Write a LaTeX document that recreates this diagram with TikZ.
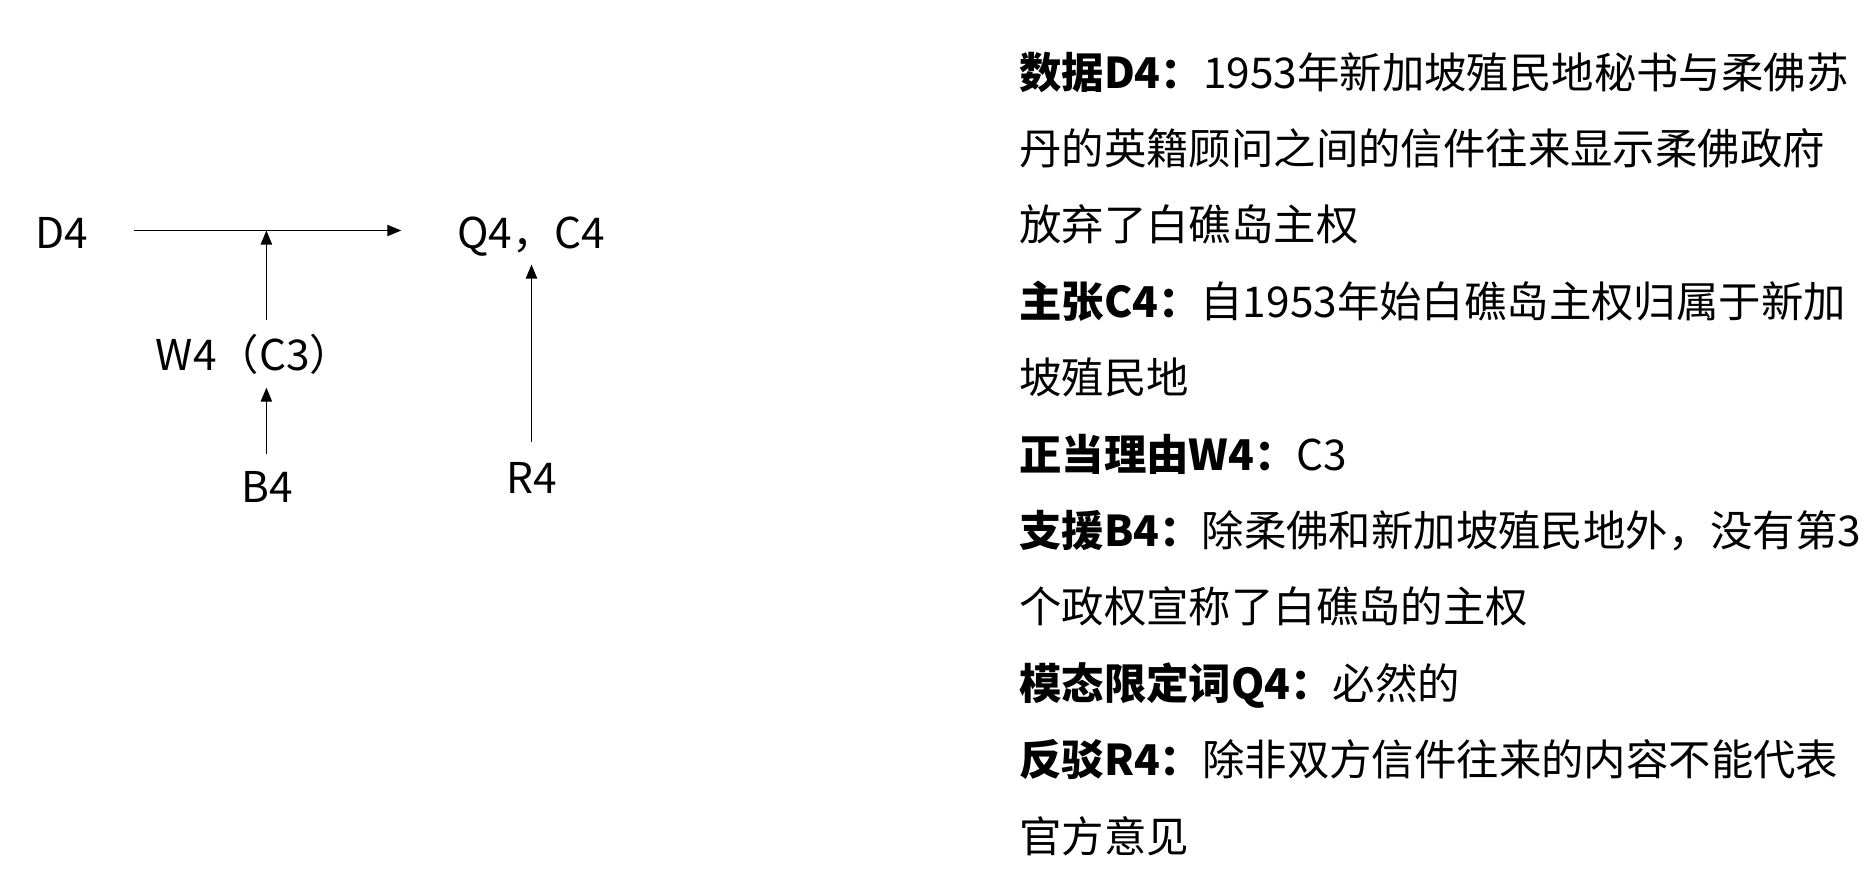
\documentclass[tikz,border=0pt]{standalone}
\usepackage{fontspec}
\setmainfont{Noto Sans CJK SC}
\usetikzlibrary{arrows.meta}
\begin{document}
\begin{tikzpicture}[x=0.75pt,y=-0.75pt,
  lbl/.style={anchor=base,inner sep=0pt,font=\fontsize{31.8}{38}\selectfont},
  txt/.style={anchor=base west,inner sep=0pt,font=\fontsize{31.8}{38}\selectfont},
  arr/.style={line width=0.9pt,-{Triangle[length=10.5pt,width=8.5pt]}}]
\useasboundingbox (0,0) rectangle (1873,890);
% left diagram
\node[lbl] (d4) at (62,248.5) {D4};
\node[lbl] (qc) at (531.5,248.5) {Q4，C4};
\node[lbl] (w4) at (254,370) {W4（C3）};
\node[lbl] (b4) at (267,502.5) {B4};
\node[lbl] (r4) at (531.5,493.5) {R4};
\coordinate (j) at (266.4,230.5);
\draw[arr,shorten <=34pt,shorten >=42pt] (d4.east |- j) -- (qc.west |- j);
\draw[arr,shorten <=10pt] (w4.north -| j) -- (j);
\draw[arr,shorten <=13pt,shorten >=10pt] (b4.north -| j) -- (w4.south -| j);
\draw[arr,shorten <=15pt,shorten >=6pt] (r4.north) -- (r4.north |- qc.south);
% right text
\node[txt] (l1) at (1019,88) {\textbf{数据D4：}1953年新加坡殖民地秘书与柔佛苏};
\node[txt] (l2) at (1019,164.4) {丹的英籍顾问之间的信件往来显示柔佛政府};
\node[txt] (l3) at (1019,240.8) {放弃了白礁岛主权};
\node[txt] (l4) at (1019,317.2) {\textbf{主张C4：}自1953年始白礁岛主权归属于新加};
\node[txt] (l5) at (1019,393.6) {坡殖民地};
\node[txt] (l6) at (1019,470) {\textbf{正当理由W4：}C3};
\node[txt] (l7) at (1019,546.4) {\textbf{支援B4：}除柔佛和新加坡殖民地外，没有第3};
\node[txt] (l8) at (1019,622.8) {个政权宣称了白礁岛的主权};
\node[txt] (l9) at (1019,699.2) {\textbf{模态限定词Q4：}必然的};
\node[txt] (l10) at (1019,775.6) {\textbf{反驳R4：}除非双方信件往来的内容不能代表};
\node[txt] (l11) at (1019,852) {官方意见};
\end{tikzpicture}
\end{document}
